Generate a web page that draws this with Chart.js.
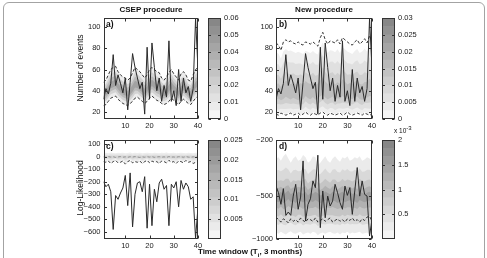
<!DOCTYPE html>
<html lang="en">
<head>
<meta charset="UTF-8">
<title>CSEP procedure / New procedure</title>
<style>
  body { margin: 0; background: #fff; }
  .wrap { position: relative; width: 487px; height: 258px; overflow: hidden; font-family: "Liberation Sans", Arial, sans-serif; color: #111; }
  .wrap canvas { position: absolute; left: 0; top: 0; }
  .frame { position: absolute; left: 3px; top: 2px; width: 480px; height: 300px; border: 1px solid #a3a3a3; border-radius: 6px; }
  .txt { position: absolute; white-space: nowrap; font-size: 8.5px; line-height: 1; }
  .bold { font-weight: bold; }
  .center { transform: translateX(-50%); }
  .ylab { transform: translate(-50%, -50%) rotate(-90deg); }
  sup, sub { font-size: 6px; line-height: 0; }
</style>
</head>
<body>
<div class="wrap">
  <div class="frame"></div>
  <canvas id="chartA" width="487" height="258"></canvas>
  <canvas id="chartB" width="487" height="258"></canvas>
  <canvas id="chartC" width="487" height="258"></canvas>
  <canvas id="chartD" width="487" height="258"></canvas>
  <canvas id="barA" width="487" height="258"></canvas>
  <canvas id="barB" width="487" height="258"></canvas>
  <canvas id="barC" width="487" height="258"></canvas>
  <canvas id="barD" width="487" height="258"></canvas>

  <div class="txt bold center" style="left:151px; top:6px; font-size:8px">CSEP procedure</div>
  <div class="txt bold center" style="left:324px; top:6px; font-size:8px">New procedure</div>
  <div class="txt ylab" style="left:80px; top:68px">Number of events</div>
  <div class="txt ylab" style="left:80px; top:188px">Log-Likelihood</div>
  <div class="txt bold center" style="left:250px; top:248px; font-size:8px">Time window (T<sub>i</sub>, 3 months)</div>
  <div class="txt bold" style="left:106px; top:20px">a)</div>
  <div class="txt bold" style="left:279px; top:20px">b)</div>
  <div class="txt bold" style="left:106px; top:142px">c)</div>
  <div class="txt bold" style="left:279px; top:142px">d)</div>
  <div class="txt" style="left:394px; top:128px; font-size:6.5px">x 10<sup>-3</sup></div>
</div>

<script src="https://cdn.jsdelivr.net/npm/chart.js"></script>
<script>
  const W = 487, H = 258;

  // time windows 1..40 and ticks
  const windows = Array.from({ length: 40 }, (_, i) => i + 1);
  const xTicks = [10, 20, 30, 40];

  // observed number of events (panels a and b)
  const observed = [32, 42, 37, 47, 74, 45, 55, 47, 38, 52, 22, 48, 75, 62, 52, 42, 48, 18, 81, 32,
                    85, 62, 40, 52, 30, 45, 34, 87, 30, 40, 26, 60, 30, 52, 38, 44, 30, 42, 108, 60];

  // a) CSEP forecast: centre and dashed bounds
  const aCentre = [36, 38, 41, 45, 46, 47, 44, 41, 39, 38, 37, 39, 42, 46, 45, 43, 41, 39, 41, 45,
                   47, 45, 43, 42, 39, 37, 39, 42, 45, 42, 40, 37, 41, 43, 41, 38, 37, 41, 45, 47];
  const aUpper = [48, 50, 55, 60, 62, 63, 58, 55, 53, 52, 50, 52, 57, 62, 60, 58, 55, 52, 55, 60,
                  62, 60, 58, 57, 52, 50, 53, 57, 60, 56, 53, 50, 56, 58, 55, 50, 49, 55, 60, 62];
  const aLower = [26, 27, 30, 33, 34, 35, 32, 30, 28, 27, 26, 28, 30, 33, 34, 32, 30, 28, 30, 33,
                  35, 33, 31, 30, 28, 27, 28, 30, 33, 31, 29, 27, 30, 32, 30, 28, 27, 30, 33, 35];

  // b) new procedure
  const bCentre = [36, 38, 35, 37, 40, 38, 36, 39, 37, 35, 38, 36, 40, 38, 37, 39, 36, 38, 40, 42,
                   39, 37, 38, 40, 36, 38, 37, 41, 39, 36, 38, 37, 39, 40, 37, 36, 38, 39, 41, 40];
  const bUpper = [85, 83, 78, 86, 88, 86, 87, 85, 84, 86, 84, 83, 86, 85, 84, 86, 84, 82, 90, 95,
                  88, 84, 87, 86, 85, 88, 84, 90, 88, 86, 84, 83, 86, 88, 84, 86, 89, 85, 92, 86];
  const bLower = [18, 17, 19, 18, 17, 18, 19, 17, 18, 19, 17, 18, 20, 18, 17, 19, 18, 17, 19, 20,
                  18, 17, 19, 18, 17, 18, 19, 17, 18, 20, 18, 17, 18, 19, 18, 17, 19, 18, 17, 18];

  // c) log-likelihood, CSEP
  const cObserved = [-200, -240, -220, -280, -580, -310, -340, -290, -250, -150, -390, -130, -560, -300, -210, -200, -280, -160, -570, -220,
                     -550, -260, -360, -210, -180, -260, -230, -550, -220, -250, -200, -400, -190, -260, -210, -240, -340, -320, -650, -400];
  const cCentre = [-4, -2, -5, -3, -4, -1, -5, -3, -2, -6, -4, -2, -5, -3, -4, -2, -5, -3, -1, -4,
                   -3, -5, -2, -4, -3, -5, -2, -4, -3, -5, -2, -4, -3, -5, -2, -4, -3, -5, -4, -2];
  const cTop = [28, 30, 26, 32, 29, 27, 31, 28, 30, 26, 29, 32, 27, 30, 28, 31, 26, 29, 30, 28,
                27, 31, 29, 26, 30, 28, 32, 27, 29, 30, 26, 28, 31, 29, 27, 30, 28, 26, 30, 29];
  const cUpper = [-2, -6, 0, -4, -1, -7, -3, 0, -5, -2, -6, -1, -4, 0, -3, -7, -2, -5, -1, -4,
                  0, -6, -3, -1, -5, -2, -7, 0, -4, -3, -6, -1, -2, -5, 0, -4, -6, -2, -3, -1];
  const cLower = [-40, -45, -35, -55, -40, -30, -50, -45, -35, -60, -40, -30, -50, -40, -45, -35, -55, -40, -30, -50,
                  -35, -45, -40, -55, -35, -40, -50, -30, -45, -40, -55, -35, -40, -50, -30, -45, -40, -55, -45, -35];

  // d) log-likelihood, new procedure (log-scaled magnitude axis)
  const dObserved = [-423, -471, -569, -441, -681, -645, -681, -498, -411, -617, -506, -281, -746, -569, -520, -389, -434, -256, -832, -458,
                     -708, -498, -585, -539, -411, -471, -554, -617, -423, -492, -434, -670, -458, -313, -498, -389, -484, -498, -953, -726];
  const dCentre = [-500, -510, -490, -520, -500, -480, -510, -500, -520, -490, -500, -510, -490, -520, -500, -510, -490, -500, -520, -510,
                   -490, -500, -510, -490, -500, -520, -500, -490, -510, -500, -490, -510, -500, -520, -490, -500, -510, -500, -490, -500];
  const dTop = [-270, -265, -280, -260, -250, -270, -290, -270, -260, -280, -275, -255, -265, -290, -280, -260, -265, -300, -290, -275,
                -260, -280, -290, -270, -260, -275, -285, -265, -270, -260, -280, -275, -265, -270, -260, -280, -275, -265, -270, -280];
  const dBottom = [-900, -920, -890, -910, -930, -900, -880, -910, -920, -900, -890, -930, -910, -900, -920, -890, -900, -940, -910, -900,
                   -920, -900, -890, -910, -920, -900, -930, -900, -910, -890, -920, -900, -910, -900, -890, -920, -910, -900, -930, -900];
  const dLower = [-700, -730, -760, -720, -740, -770, -720, -750, -730, -760, -710, -740, -760, -720, -730, -750, -710, -760, -740, -720,
                  -750, -730, -710, -760, -740, -720, -750, -730, -760, -720, -740, -710, -750, -730, -760, -720, -740, -700, -690, -750];

  // axis ticks
  const countTicks = [20, 40, 60, 80, 100];
  const llTicksC = [100, 0, -100, -200, -300, -400, -500, -600];
  const llTicksD = [200, 500, 1000];
  const cbTicksA = [0, 0.01, 0.02, 0.03, 0.04, 0.05, 0.06];
  const cbTicksB = [0, 0.005, 0.01, 0.015, 0.02, 0.025, 0.03];
  const cbTicksC = [0.005, 0.01, 0.015, 0.02, 0.025];
  const cbTicksD = [0.5, 1, 1.5, 2];

  Chart.defaults.font.family = '"Liberation Sans", Arial, sans-serif';
  Chart.defaults.font.size = 7.5;
  Chart.defaults.color = '#222';

  const minus = v => String(v).replace('-', '\u2212');
  const pts = (arr, f) => windows.map((w, i) => ({ x: w, y: f(arr[i]) }));

  // axes box with inward ticks (matlab look)
  const boxPlugin = {
    id: 'box',
    afterDraw(chart, args, opts) {
      const { ctx, chartArea: a } = chart;
      const L = Math.round(a.left) + 0.5, R = Math.round(a.right) - 0.5;
      const T = Math.round(a.top) + 0.5, B = Math.round(a.bottom) - 0.5;
      ctx.save();
      ctx.strokeStyle = '#333';
      ctx.lineWidth = 1;
      ctx.strokeRect(L, T, R - L, B - T);
      ctx.beginPath();
      if (opts.x) {
        chart.scales.x.ticks.forEach(t => {
          const p = Math.round(chart.scales.x.getPixelForValue(t.value)) + 0.5;
          ctx.moveTo(p, B); ctx.lineTo(p, B - 3);
          ctx.moveTo(p, T); ctx.lineTo(p, T + 3);
        });
      }
      chart.scales.y.ticks.forEach(t => {
        const p = Math.round(chart.scales.y.getPixelForValue(t.value)) + 0.5;
        ctx.moveTo(L, p); ctx.lineTo(L + 2.5, p);
        ctx.moveTo(R, p); ctx.lineTo(R - 2.5, p);
      });
      ctx.stroke();
      ctx.restore();
    }
  };

  function panel(id, rect, cfg) {
    const f = cfg.map || (v => v);
    const datasets = [];
    cfg.greys.forEach((g, k) => {
      const lo = cfg.centre.map((c, i) => c + cfg.loFrac[k] * (cfg.bottom[i] - c));
      const hi = cfg.centre.map((c, i) => c + cfg.hiFrac[k] * (cfg.top[i] - c));
      datasets.push({ data: pts(lo, f), borderWidth: 0, borderColor: 'rgba(0,0,0,0)', pointRadius: 0, fill: false, order: 100 - k * 2 });
      datasets.push({ data: pts(hi, f), borderWidth: 0, borderColor: 'rgba(0,0,0,0)', pointRadius: 0, fill: '-1', backgroundColor: g, order: 99 - k * 2 });
    });
    cfg.dashes.forEach(d => {
      datasets.push({ data: pts(d.data, f), borderColor: d.color, borderWidth: 0.9, borderDash: [3, 2], pointRadius: 0, fill: false, order: 1 });
    });
    datasets.push({ data: pts(cfg.observed, f), borderColor: '#2a2a2a', borderWidth: 1, pointRadius: 0, fill: false, order: 0 });

    const yw = 30, xh = 12;
    return new Chart(document.getElementById(id), {
      type: 'line',
      data: { datasets },
      options: {
        responsive: false, animation: false, devicePixelRatio: 1,
        layout: { padding: { left: rect.l - yw, top: rect.t, right: W - rect.r, bottom: H - rect.b - xh } },
        plugins: { legend: { display: false }, tooltip: { enabled: false }, box: { x: true } },
        scales: {
          x: {
            type: 'linear', min: 1, max: 40,
            afterBuildTicks: s => { s.ticks = xTicks.map(v => ({ value: v })); },
            afterFit: s => { s.height = xh; },
            ticks: { padding: 2, autoSkip: false, maxRotation: 0 },
            grid: { display: false, drawTicks: false }, border: { display: false }
          },
          y: {
            type: cfg.yType || 'linear', reverse: !!cfg.reverse, min: cfg.yMin, max: cfg.yMax,
            afterBuildTicks: s => { s.ticks = cfg.yTicks.map(v => ({ value: v })); },
            afterFit: s => { s.width = yw; },
            ticks: { padding: 3, autoSkip: false, callback: cfg.fmt || minus },
            grid: { display: false, drawTicks: false }, border: { display: false }
          }
        }
      },
      plugins: [boxPlugin]
    });
  }

  function colorbar(id, rect, max, ticks) {
    const n = 12, datasets = [];
    for (let k = 0; k < n; k++) {
      const g = Math.round(250 - (k + 0.5) / n * 120);
      datasets.push({ data: [max / n], backgroundColor: `rgb(${g},${g},${g})`, borderWidth: 0, barPercentage: 1, categoryPercentage: 1 });
    }
    const yw = 30;
    return new Chart(document.getElementById(id), {
      type: 'bar',
      data: { labels: [''], datasets },
      options: {
        responsive: false, animation: false, devicePixelRatio: 1,
        layout: { padding: { left: rect.l, top: rect.t, right: W - rect.r - yw, bottom: H - rect.b } },
        plugins: { legend: { display: false }, tooltip: { enabled: false }, box: { x: false } },
        scales: {
          x: { display: false, stacked: true },
          y: {
            position: 'right', stacked: true, min: 0, max,
            afterBuildTicks: s => { s.ticks = ticks.map(v => ({ value: v })); },
            afterFit: s => { s.width = yw; },
            ticks: { padding: 3, autoSkip: false, callback: v => String(+v.toFixed(4)) },
            grid: { display: false, drawTicks: false }, border: { display: false }
          }
        }
      },
      plugins: [boxPlugin]
    });
  }

  panel('chartA', { l: 103.5, t: 18, r: 198, b: 119 }, {
    observed, centre: aCentre, top: aUpper, bottom: aLower,
    hiFrac: [1, 0.7, 0.45, 0.22], loFrac: [1, 0.7, 0.45, 0.22],
    greys: ['#ececec', '#d3d3d3', '#b9b9b9', '#a2a2a2'],
    dashes: [{ data: aUpper, color: '#1e1e1e' }, { data: aLower, color: '#1e1e1e' }],
    yMin: 13.4, yMax: 108.5, yTicks: countTicks
  });

  panel('chartB', { l: 276, t: 18, r: 372, b: 119 }, {
    observed, centre: bCentre, top: bUpper, bottom: bLower,
    hiFrac: [0.82, 0.6, 0.38, 0.2], loFrac: [0.95, 0.75, 0.5, 0.25],
    greys: ['#efefef', '#e0e0e0', '#cfcfcf', '#bdbdbd'],
    dashes: [{ data: bUpper, color: '#1e1e1e' }, { data: bLower, color: '#1e1e1e' }],
    yMin: 13.4, yMax: 108.5, yTicks: countTicks
  });

  panel('chartC', { l: 103.5, t: 140, r: 198, b: 239 }, {
    observed: cObserved, centre: cCentre, top: cTop, bottom: cLower,
    hiFrac: [1, 0.6, 0.3], loFrac: [0.8, 0.5, 0.25],
    greys: ['#ededed', '#e1e1e1', '#d5d5d5'],
    dashes: [{ data: cUpper, color: '#8a8a8a' }, { data: cLower, color: '#1e1e1e' }],
    yMin: -656, yMax: 132, yTicks: llTicksC
  });

  panel('chartD', { l: 276, t: 140, r: 372, b: 239 }, {
    observed: dObserved, centre: dCentre, top: dTop, bottom: dBottom,
    hiFrac: [1, 0.75, 0.5, 0.3, 0.12], loFrac: [1, 0.7, 0.45, 0.25, 0.1],
    greys: ['#ebebeb', '#d9d9d9', '#c5c5c5', '#b1b1b1', '#9e9e9e'],
    dashes: [{ data: dLower, color: '#1e1e1e' }],
    map: v => -v, yType: 'logarithmic', reverse: true, yMin: 200, yMax: 1000, yTicks: llTicksD,
    fmt: v => '\u2212' + v
  });

  colorbar('barA', { l: 208, t: 18, r: 221, b: 119 }, 0.06, cbTicksA);
  colorbar('barB', { l: 382, t: 18, r: 395, b: 119 }, 0.03, cbTicksB);
  colorbar('barC', { l: 208, t: 140, r: 221, b: 239 }, 0.025, cbTicksC);
  colorbar('barD', { l: 382, t: 140, r: 395, b: 239 }, 2, cbTicksD);
</script>
</body>
</html>
